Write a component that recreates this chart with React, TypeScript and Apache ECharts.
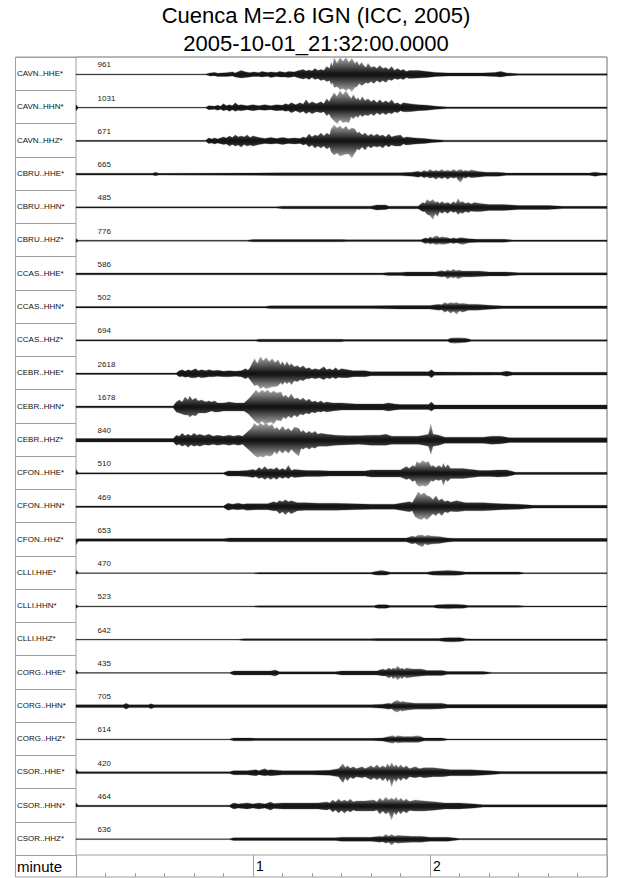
import React, { useEffect, useRef } from "react";
import * as echarts from "echarts";

const TITLE = "Cuenca M=2.6 IGN (ICC, 2005)";
const SUBTITLE = "2005-10-01_21:32:00.0000";
const AXIS_NAME = "minute";

const STATIONS = [
  "CAVN..HHE*", "CAVN..HHN*", "CAVN..HHZ*",
  "CBRU..HHE*", "CBRU..HHN*", "CBRU..HHZ*",
  "CCAS..HHE*", "CCAS..HHN*", "CCAS..HHZ*",
  "CEBR..HHE*", "CEBR..HHN*", "CEBR..HHZ*",
  "CFON..HHE*", "CFON..HHN*", "CFON..HHZ*",
  "CLLI.HHE*", "CLLI.HHN*", "CLLI.HHZ*",
  "CORG..HHE*", "CORG..HHN*", "CORG..HHZ*",
  "CSOR..HHE*", "CSOR..HHN*", "CSOR..HHZ*",
];

const PEAKS = [961, 1031, 671, 665, 485, 776, 586, 502, 694, 2618, 1678, 840, 510, 469, 653, 470, 523, 642, 435, 705, 614, 420, 464, 636];

// time axis (seconds from start) and minute labels
const T_MIN = 0;
const T_MAX = 180;
const MINOR_STEP = 10;
const MAJOR_STEP = 60;

// Envelopes: [time s, upward deflection px, downward deflection px]
const ENV_CAVN_HHE = [[0,.4,.4],[44,.4,.4],[45.5,1.5,1.5],[47,2,1.2],[48,1.2,2],[51,1.8,2],[53,2.5,1.5],[54,1.5,2.5],[56,4,3.5],[57.5,2.5,3],[59,1.8,2.5],[60,2.5,2],[62,1.8,2],[63,3,2.5],[65,2,1.8],[66,2.5,3],[68,2,2],[69,3,2.5],[71,2,2.5],[72,3,3],[74,2.5,2],[75,3.5,3],[77,5,4.5],[78,3.5,3.5],[79,4.5,5],[80,3.5,3],[81,6,5],[82,4,4],[83,5,6],[84,4,5],[85,8,7],[86,6,6],[86.5,12,10],[87,8,8],[87.5,17,13],[88.5,11,12],[89.5,17,15],[90.5,13,14],[91.5,17,16],[92.5,12,14],[93.5,16,17],[94.5,11,13],[95.3,13,12],[96,9,9],[96.8,12,11],[97.5,9,10],[98.3,7,8],[99,11,9],[100,7,7],[101,8,9],[102,6,6],[103,9,8],[104,6,6],[105,7,8],[106,5,5],[107,8,6],[108,4,4],[109,6,5],[110,4,4],[111,5,5],[112,3,3],[113,4,4],[116,4,3.5],[119,3,3],[122,2,2],[126,1.5,1.5],[132,1.5,1.5],[138,1.5,1.5],[142,2,2],[144,3,2.5],[146,1.5,1.5],[150,.8,.8],[180,.8,.8]];
const ENV_CAVN_HHN = [[0,3,3],[0.8,.4,.4],[44,.4,.4],[45,2,2],[47,1.5,1.5],[48,2.5,2.5],[49,1.5,1.5],[50,4,3],[51,2,2],[52,3,3.5],[53,2,2],[54,5,3.5],[55,2.5,2.5],[56,3,3],[58,2,2],[60,3,3],[62,2,2],[64,3,2.5],[66,2,2],[68,3,3],[70,2.5,2.5],[71,4,3.5],[72,3,3],[73,5,5],[74.5,3,3],[76,5,5],[77,3.5,3.5],[78,8,6],[79,4,4],[80,6,6],[81.5,4,4],[83,6,5],[84,4,4],[85,9,8],[85.8,6,6],[86.5,10,10],[87.5,15,13],[88.5,11,16],[89.5,17,12],[90.5,13,15],[91.5,17,14],[92.5,12,15],[93.3,9,9],[94,13,11],[95,8,8],[95.5,10,10],[96.3,7,7],[97,11,9],[98,7,7],[99,9,8],[100,6,6],[101,8,8],[102,5,5],[103,8,7],[104,5,5],[105,7,7],[106,5,5],[107,8,6],[108,4,4],[109,5,5],[110,3,3],[111,5,4],[113,4,4],[116,3,3],[119,2.5,2.5],[122,1.5,1.5],[126,.8,.8],[180,.8,.8]];
const ENV_CAVN_HHZ = [[0,.6,.6],[44,.6,.6],[45,3,2.5],[46,2,2],[47,3,3],[48,2,2],[50,4,3.5],[51,3,3],[52,5,5],[53,3.5,3.5],[54,6,5],[55,4,4],[56,5,6],[57,4,3.5],[58,6,5],[59,3.5,4],[60,5,5],[62,3.5,3.5],[64,2.5,2.5],[66,3.5,3],[68,2.5,2.5],[70,3.5,3.5],[72,2.5,2.5],[74,3,3],[76,2.5,2.5],[77,4,4],[78,3,3],[79,7,6],[80,4,4],[81,6,7],[82,5,5],[83,8,7],[84,5,5],[85,8,8],[86,6,6],[86.5,12,11],[87.5,16,14],[88.5,13,12],[89.5,15,15],[90.5,12,14],[91.5,15,13],[92.5,11,13],[93.5,13,17],[94.5,12,12],[95.3,8,8],[96,9,9],[97,6,6],[98,8,9],[99,5,5],[100,7,7],[101,5,5],[102,7,6],[103,5,5],[104,6,7],[105,4,4],[106,7,6],[107,4,4],[108,5,5],[110,6,5],[111,3,3],[112,4,4],[115,3,3],[118,2.5,2.5],[121,1.5,1.5],[125,.8,.8],[180,.8,.8]];
const ENV_CBRU_HHE = [[0,.9,.9],[26,.9,.9],[27,2,1.5],[28,.9,.9],[60,1.1,1.1],[70,1.4,1.4],[90,1.4,1.4],[110,1.4,1.4],[114,2,2],[116,3,3],[117,2,2],[118,4,3.5],[119,2.5,2.5],[120,5,4],[121,3,3],[122,4,5],[123,3,3],[124,5,4.5],[125,3,3],[126,4,5],[127,3,3],[128,5,4],[129,3,3],[129.5,4,6],[130.5,5,8],[131.3,3,3],[132,4,4],[133,3,2.5],[134,4.5,3.5],[136,3,3],[139,2,2],[143,2,2],[146,1.1,1.1],[174,1.1,1.1],[176,2,2],[178,1.1,1.1],[180,1.1,1.1]];
const ENV_CBRU_HHN = [[0,.6,.6],[68,.6,.6],[70,1.3,1.3],[100,1.3,1.3],[102,2.5,2.5],[105,2.5,2],[106,1.3,1.3],[116,1.3,1.3],[117.5,5,4],[118.3,4,4],[119,8,7],[120,6,8],[121,8,12],[121.8,5,6],[122.5,6,9],[123.3,4,4],[124,6,6],[125,4,4],[126,5,6],[127,3.5,3.5],[128,6,5],[128.8,4,4],[129.5,9,7],[130.3,5,5],[131,6,6],[132,4,4],[133,5,5],[134,3.5,3.5],[135,5,4],[137,4,4],[140,3,3],[145,3,3],[150,2,2],[160,2,2],[165,1.1,1.1],[180,1.1,1.1]];
const ENV_CBRU_HHZ = [[0,2,2],[0.8,.5,.5],[58,.5,.5],[60,1.1,1.1],[90,1.1,1.1],[92,.9,.9],[117,.9,.9],[118.5,3,3],[119.3,2,2],[120,4,3.5],[121,2.5,2.5],[121.5,4.5,3.5],[122.5,5,4],[123.3,3,3],[124,4,4],[126,3,3],[127,2,2],[128,3,3],[129,2,2],[130,3,3],[131,3,4],[133,2,2],[136,1.5,1.5],[145,1.5,1.5],[148,.7,.7],[180,.7,.7]];
const ENV_CCAS_HHE = [[0,.9,.9],[104,.9,.9],[106,1.5,1.5],[110,1.5,1.5],[112,2,2],[118,2,2],[122,2,2],[124,3.5,3],[125,2.5,2.5],[126,4,5],[127,3,3],[128,5,4],[128.8,3,3],[129.5,4,5],[131,3,3],[134,3,3],[137,3,2.5],[140,2,2],[146,2,2],[150,1.1,1.1],[180,1.1,1.1]];
const ENV_CCAS_HHN = [[0,.7,.7],[64,.7,.7],[66,1.4,1.4],[100,1.4,1.4],[110,1.8,1.8],[120,1.8,1.8],[123,3,3],[124,2.5,2.5],[125,5,5],[126,3.5,3.5],[127,5,6],[128,4,4],[129,5,7],[130,3.5,3.5],[131,4,5],[133,3,3],[136,3,3],[140,2,2],[145,1.3,1.3],[180,1.3,1.3]];
const ENV_CCAS_HHZ = [[0,.6,.6],[61,.6,.6],[62,1.3,1.3],[90,1.3,1.3],[91,.9,.9],[126,.9,.9],[127,2.5,2.5],[128.5,3,3],[130,3,2.5],[132,2.5,2],[134,.7,.7],[180,.7,.7]];
const ENV_CEBR_HHE = [[0,.7,.7],[34,.7,.7],[35,3,3],[36,4,2.5],[37,2.5,3.5],[38,4,3],[39,3,4],[40.5,5,4],[41.5,3,3],[42.5,4,4],[44,3,3.5],[45,4,3],[46.5,3,3],[48,3.5,2.5],[50,2.5,3],[52,3,3],[54,2.5,2.5],[56,3,3],[57.5,5,5],[58.3,3.5,3.5],[59,6,6],[60.5,15,12],[61.5,10,11],[62.5,17,15],[63.5,13,13],[64.5,16,15],[65.5,12,14],[66.5,15,13],[67.5,11,13],[68.5,14,12],[69.3,9,9],[70,12,11],[70.8,8,8],[71.5,12,10],[72.3,8,8],[73,10,11],[74,7,7],[75,8,8],[76,6,6],[77,8,7],[78,5,5],[79,6,5],[80,4,4],[81,5,5],[82.5,4,4],[84,7,6],[85,4,4],[86,5,5],[87,3.5,3.5],[88,6,5],[89,3.5,3.5],[90,5,4],[92,4,4],[94,3,3],[98,3,3],[100,2,2],[118,2,2],[119.5,2,2],[120.5,4,4],[121.5,1.6,1.6],[144,1.4,1.4],[146,2.5,2.5],[148,1.4,1.4],[180,1.4,1.4]];
const ENV_CEBR_HHN = [[0,.9,.9],[33,.9,.9],[34,5,5],[35,7,6],[36,5,7],[37,10,8],[38,7,8],[38.5,11,10],[39.5,7,8],[40.5,9,9],[41.5,6,6],[42.5,7,6],[44,5,6],[45,6,5],[46,5,4],[47,6,5],[48,4,5],[50,4,4],[52,5,4],[54,4,4],[56,4,4],[57,4,4],[58.5,8,7],[60,13,12],[61,17,15],[62,14,17],[63,17,14],[64,15,17],[65,17,16],[66,14,15],[67,16,17],[68,14,13],[69.5,15,14],[70.3,10,10],[71,12,12],[72,9,9],[73,13,11],[74,8,8],[75,9,10],[76,7,7],[77,9,8],[78,6,6],[79,8,7],[80,5,5],[81,6,6],[82,4.5,4.5],[83,6,5],[84,4,4],[85,5,5],[87,4,4],[90,4,3],[95,3,3],[100,3,3],[104,3,3],[106,4,4],[108,3,3],[110,2.5,2.5],[118,2.5,2.5],[119.5,2.5,2.5],[120.5,5,4],[121.5,2,2],[180,2,2]];
const ENV_CEBR_HHZ = [[0,1.7,1.7],[33,1.7,1.7],[34,5,5],[35,4,4],[36,7,6],[37,4.5,4.5],[38,6,7],[39,4.5,4.5],[40,7,6],[41,5,5],[42,6,6],[43.5,4.5,4.5],[45,6,5],[46.5,4,4],[48,5,5],[50,4,4],[52,5,5],[53.5,4,4],[55,5,5],[56.5,4,4],[58,8,8],[59.5,12,12],[60.5,17,15],[61.5,14,17],[62.5,17,16],[63.5,15,17],[64.5,17,15],[65.5,14,16],[66.5,16,15],[67.3,11,11],[68,13,14],[69,10,10],[70,14,13],[71,10,10],[72,12,13],[73,9,9],[74,13,12],[75.5,12,16],[76.3,8,8],[77,10,9],[78,7,7],[79,9,9],[80,7,7],[81,9,8],[82,6,6],[83,7,6],[85,6,6],[88,5,5],[92,4.5,4.5],[96,4.5,4],[100,5,5],[103,5,5],[105,6,5],[107,4,4],[112,4,4],[116,4,4],[118,5,5],[119.5,6,6],[120.3,16,14],[121,6,6],[123,5,5],[125,3,3],[132,3,3],[138,3,3],[141,4,4],[144,4,3.5],[147,2.4,2.4],[180,2.4,2.4]];
const ENV_CFON_HHE = [[0,4,1],[0.8,.6,.6],[50,.6,.6],[51.5,2.5,2.5],[55,2.5,2.5],[58,3,3],[60,4,4],[61,3,3],[62,6,5],[63,4,4],[64,7,6],[65,4,4],[66,5,6],[67,4,4],[68,6,6],[69,3.5,3.5],[70,5,5],[71,3.5,3.5],[72,8,5],[73,3,3],[74,4,4],[78,3,3],[82,3,3],[86,2.5,2.5],[92,2.5,2.5],[98,2.5,2.5],[100,3.5,3.5],[105,3.5,3.5],[110,3.5,3.5],[112,7,6],[113,5,5],[114,8,8],[115,7,7],[115.5,12,11],[116.5,10,13],[117.5,13,12],[118.5,11,13],[119.5,12,11],[120.3,7,7],[121,8,8],[122,6,6],[123,8,7],[124,6,6],[124.5,10,12],[125.3,6,6],[126,9,8],[127,5,5],[128,5,5],[131,5,5],[134,4,4],[137,3,3],[140,3,3],[143,3.5,3.5],[146,3.5,3],[149,1.1,1.1],[180,1.1,1.1]];
const ENV_CFON_HHN = [[0,.7,.7],[50,.7,.7],[51.5,3.5,3.5],[53,2.5,2.5],[55,3.5,3],[56.5,2.5,2.5],[58,3,3.5],[61,3,3],[65,3,3],[67,5,4],[68,4,4],[69,6,7],[70,5,5],[71,7,8],[72,5,5],[73,6,7],[75,4,4],[78,4,3.5],[82,3.5,3.5],[88,3.5,3.5],[94,3,3],[100,2.5,2.5],[108,2.5,2.5],[111,4,4],[113,5,5],[114,4,4],[115,9,10],[116,15,12],[117,12,13],[118,14,11],[119,11,13],[120,10,10],[121,7,7],[122,11,9],[123,6,6],[124,8,9],[125,5,5],[126,6,6],[127,4.5,4.5],[129,6,5],[132,4,4],[138,4,4],[144,3,3],[150,2.5,2.5],[155,1.4,1.4],[180,1.4,1.4]];
const ENV_CFON_HHZ = [[0,1,5],[0.8,1.2,1.2],[50,1.2,1.2],[52,1.9,1.9],[112,1.9,1.9],[114,4,4],[115,3,3],[116,5,5],[117.5,5,7],[118.3,3.5,3.5],[119,5,5],[120.5,4,4],[123,3.5,3.5],[126,2,2],[128,1.6,1.6],[180,1.6,1.6]];
const ENV_CLLI_HHE = [[0,4,1],[0.8,.4,.4],[60,.4,.4],[62,.7,.7],[100,.7,.7],[102,2,2],[103.5,3,2],[105,2,2],[106.5,.9,.9],[119,.9,.9],[121,2,2],[124,2.5,2.5],[126,3,2.5],[128,2.5,2.5],[130,2,2],[132,1.1,1.1],[150,1.1,1.1],[152,.5,.5],[180,.5,.5]];
const ENV_CLLI_HHN = [[0,2,2],[0.8,.4,.4],[60,.4,.4],[62,.7,.7],[101,.7,.7],[102.5,2,2],[105,2,2],[106.5,.9,.9],[121,.9,.9],[123,2,2],[126,2.5,2.5],[129,2.5,2],[131,2,2],[133,.9,.9],[150,.9,.9],[152,.5,.5],[180,.5,.5]];
const ENV_CLLI_HHZ = [[0,.4,.4],[55,.4,.4],[57,.9,.9],[100,.9,.9],[102,1.1,1.1],[123,1.1,1.1],[125,2,2],[127,2.5,2.5],[130,2.5,2],[132,.9,.9],[134,.7,.7],[180,.7,.7]];
const ENV_CORG_HHE = [[0,3,1],[0.8,.4,.4],[52,.4,.4],[53.5,2,2],[58,2,2],[62,2,2],[66,2,2],[67.5,3,3],[69,1.1,1.1],[88,1.1,1.1],[90,2,2],[96,2,2],[102,2,2],[104,4,3],[105,3,3],[106,5,5],[107,3.5,3.5],[107.5,5,6],[108.3,4,4],[109,7,7],[110,4,4],[110.5,5,6],[111.3,3.5,3.5],[112,5,5],[114,4,4],[117,4,3],[119,2.5,2.5],[124,2.5,2.5],[126,1.4,1.4],[138,1.4,1.4],[141,.5,.5],[180,.5,.5]];
const ENV_CORG_HHN = [[0,1.4,1.4],[16,1.4,1.4],[17,3,3],[18,1.4,1.4],[24.5,1.4,1.4],[25.5,2.5,2.5],[26.5,1.4,1.4],[100,1.4,1.4],[104,2,2],[106,3,3],[107,2.5,2.5],[108,5,5],[109,6,6],[110,4,4],[110.5,5,5],[112,4,4],[115,3,3],[120,3,3],[124,3,2.5],[126,1.7,1.7],[180,1.7,1.7]];
const ENV_CORG_HHZ = [[0,.4,.4],[52,.4,.4],[53.5,1.4,1.4],[59,1.4,1.4],[61,1.1,1.1],[100,1.1,1.1],[104,1.5,1.5],[106,3,3],[107.5,4,4],[108.3,2.5,2.5],[109,4,3.5],[111,3,3],[114,3,3],[116,4,3],[118,1.4,1.4],[124,1.4,1.4],[126,.5,.5],[180,.5,.5]];
const ENV_CSOR_HHE = [[0,4,1],[0.8,.9,.9],[52,.9,.9],[53.5,2,2],[58,2,2],[61,3,3],[62,2,2],[64,4,3],[65,2.5,2.5],[66,3,3],[70,2,2],[80,2,2],[86,2.5,2.5],[89,4,4],[90.5,9,10],[91.3,5,5],[92,7,8],[93,4.5,4.5],[94,6,6],[95,4,4],[97,6,5],[98,4,4],[100,7,7],[101,5,5],[102,8,7],[103,5,5],[104,7,8],[105,5,5],[105.5,9,9],[106.3,6,6],[107,10,14],[107.8,6,6],[108.5,8,9],[109.3,5,5],[110,8,8],[111,5,5],[112,7,7],[113,4,4],[115,6,5],[116.5,4,4],[118,5,5],[121,5,4],[124,4,4],[127,3,3],[134,3,3],[140,2,2],[144,1.1,1.1],[180,1.1,1.1]];
const ENV_CSOR_HHN = [[0,3,1],[0.8,.7,.7],[52,.7,.7],[53.5,3,3],[55,2,2],[58,3,3],[60,2,2],[62,3,3],[64,2,2],[66,4,4],[67,2.5,2.5],[70,3,3],[76,3,3],[82,3,3],[85,4,4],[86,3,3],[87,6,6],[88,4,4],[89,7,7],[90,4.5,4.5],[91,6,7],[92,4.5,4.5],[93,7,6],[94,4,4],[95,5,5],[98,5,5],[101,6,5],[102,4,4],[103,8,8],[104,5,5],[105,9,8],[106,6,6],[107,8,14],[107.8,6,6],[108.5,9,9],[109.3,5,5],[110,8,8],[111,5,5],[112,7,7],[113,4.5,4.5],[115,6,5],[118,5,5],[122,4,4],[125,3,3],[130,3,3],[135,2,2],[138,1.1,1.1],[180,1.1,1.1]];
const ENV_CSOR_HHZ = [[0,.4,.4],[52,.4,.4],[53.5,1.4,1.4],[60,1.4,1.4],[75,1.4,1.4],[88,1.4,1.4],[90,2,2],[100,2,2],[103,3,3],[104,2.5,2.5],[105,5,4],[106,3,3],[107,5,6],[108,3,3],[109,4,4],[111,3.5,3.5],[114,3,3],[117,3,3],[120,2,2],[126,2,2],[130,.6,.6],[180,.6,.6]];

const ENVELOPES = [
  ENV_CAVN_HHE, ENV_CAVN_HHN, ENV_CAVN_HHZ,
  ENV_CBRU_HHE, ENV_CBRU_HHN, ENV_CBRU_HHZ,
  ENV_CCAS_HHE, ENV_CCAS_HHN, ENV_CCAS_HHZ,
  ENV_CEBR_HHE, ENV_CEBR_HHN, ENV_CEBR_HHZ,
  ENV_CFON_HHE, ENV_CFON_HHN, ENV_CFON_HHZ,
  ENV_CLLI_HHE, ENV_CLLI_HHN, ENV_CLLI_HHZ,
  ENV_CORG_HHE, ENV_CORG_HHN, ENV_CORG_HHZ,
  ENV_CSOR_HHE, ENV_CSOR_HHN, ENV_CSOR_HHZ,
];

// style / layout constants
const FONT = '"Liberation Sans", Arial, Helvetica, sans-serif';
const FRAME = "#a0a0a0";
const ROW_PX = 33.25;
const BASELINE = 0.525; // fraction of row from its top
const PEAK_T = 7.3; // seconds, where the peak value label sits
const PEAK_Y = 0.24; // fraction of row
const CORE_PX = 1.2; // dense core of the trace drawn black, beyond it fades to grey
const EDGE_GREY = "#a8a8a8";
const CORE_GREY = "#151515";

export default function App() {
  const ref = useRef<HTMLDivElement>(null);

  useEffect(() => {
    if (!ref.current) return;
    const chart = echarts.init(ref.current, undefined, { renderer: "svg" });
    const rows = STATIONS.length;
    const gridTop = 57;
    const gridHeight = rows * ROW_PX;

    const option: any = {
      animation: false,
      backgroundColor: "#ffffff",
      graphic: [
        {
          type: "text",
          x: 316,
          y: 15,
          style: { text: TITLE, font: `22px ${FONT}`, fill: "#000", align: "center", verticalAlign: "middle" },
        },
        {
          type: "text",
          x: 316,
          y: 43,
          style: { text: SUBTITLE, font: `22px ${FONT}`, fill: "#000", align: "center", verticalAlign: "middle" },
        },
      ],
      grid: [
        { left: 76, top: gridTop, width: 531, height: gridHeight, show: true, borderColor: FRAME, borderWidth: 1, backgroundColor: "transparent" },
        { left: 76, top: gridTop + gridHeight, width: 531, height: 877 - gridTop - gridHeight, show: false },
        { left: 15.5, top: gridTop, width: 591.5, height: 877 - gridTop, show: true, borderColor: FRAME, borderWidth: 1, backgroundColor: "transparent" },
      ],
      xAxis: [
        { gridIndex: 0, type: "value", min: T_MIN, max: T_MAX, show: false },
        {
          gridIndex: 1, type: "value", min: T_MIN, max: T_MAX, interval: MINOR_STEP, position: "bottom",
          axisLine: { show: false },
          axisTick: { show: true, inside: true, length: 4, lineStyle: { color: FRAME, width: 1 } },
          axisLabel: { show: false },
          splitLine: { show: false },
        },
        {
          gridIndex: 1, type: "value", min: T_MIN, max: T_MAX, interval: MAJOR_STEP, position: "bottom",
          axisLine: { show: false },
          axisTick: { show: false },
          axisLabel: {
            inside: true, margin: 4, align: "left", verticalAlign: "bottom", padding: [0, 0, 0, 3],
            fontSize: 14, fontFamily: FONT, color: "#000",
            formatter: (v: number) => (v > T_MIN && v < T_MAX ? String(v / MAJOR_STEP) : ""),
          },
          splitLine: { show: true, lineStyle: { color: FRAME, width: 1 } },
        },
      ],
      yAxis: [
        { gridIndex: 0, type: "value", min: 0, max: rows, inverse: true, show: false },
        {
          gridIndex: 0, type: "category", data: STATIONS, inverse: true, position: "left",
          axisLine: { show: false },
          axisTick: { show: true, interval: 0, length: 60.5, lineStyle: { color: FRAME, width: 1 } },
          axisLabel: { interval: 0, align: "left", margin: 59, fontSize: 8, fontFamily: FONT, color: "#111" },
          splitLine: { show: false },
        },
        {
          gridIndex: 1, type: "category", data: [AXIS_NAME], position: "left",
          axisLine: { show: false },
          axisTick: { show: false },
          axisLabel: { align: "left", margin: 59, fontSize: 15, fontFamily: FONT, color: "#000" },
          splitLine: { show: false },
        },
      ],
      series: [
        {
          type: "custom",
          coordinateSystem: "cartesian2d",
          xAxisIndex: 0,
          yAxisIndex: 0,
          clip: false,
          silent: true,
          data: STATIONS.map((_, i) => [T_MIN, i]),
          encode: { x: 0, y: 1 },
          renderItem: (params: any, api: any) => {
            const i = params.dataIndex;
            const env = ENVELOPES[i];
            const base = i + BASELINE;
            const upper = env.map((p: number[]) => api.coord([p[0], base - p[1] / ROW_PX]));
            const lower = env.map((p: number[]) => api.coord([p[0], base + p[2] / ROW_PX])).reverse();
            const maxUp = Math.max(...env.map((p: number[]) => p[1]));
            const maxDown = Math.max(...env.map((p: number[]) => p[2]));
            const y0 = api.coord([T_MIN, base - maxUp / ROW_PX])[1];
            const yb = api.coord([T_MIN, base])[1];
            const y1 = api.coord([T_MIN, base + maxDown / ROW_PX])[1];
            const span = Math.max(y1 - y0, 1);
            const cUp = Math.max(0, (yb - CORE_PX - y0) / span);
            const cDn = Math.min(1, (yb + CORE_PX - y0) / span);
            const fill = new echarts.graphic.LinearGradient(0, y0, 0, y1, [
              { offset: 0, color: EDGE_GREY },
              { offset: cUp, color: CORE_GREY },
              { offset: cDn, color: CORE_GREY },
              { offset: 1, color: EDGE_GREY },
            ], true);
            const lab = api.coord([PEAK_T, i + PEAK_Y]);
            return {
              type: "group",
              children: [
                {
                  type: "polygon",
                  shape: { points: upper.concat(lower) },
                  style: { fill, stroke: fill, lineWidth: 0.3 },
                },
                {
                  type: "text",
                  x: lab[0],
                  y: lab[1],
                  style: { text: String(PEAKS[i]), font: `8px ${FONT}`, fill: "#222", align: "left", verticalAlign: "middle" },
                },
              ],
            };
          },
        },
      ],
    };

    chart.setOption(option);
    return () => chart.dispose();
  }, []);

  return (
    <div style={{ position: "absolute", left: 0, top: 0, width: 640, height: 878, background: "#fff" }}>
      <div ref={ref} style={{ width: 640, height: 878 }} />
    </div>
  );
}
